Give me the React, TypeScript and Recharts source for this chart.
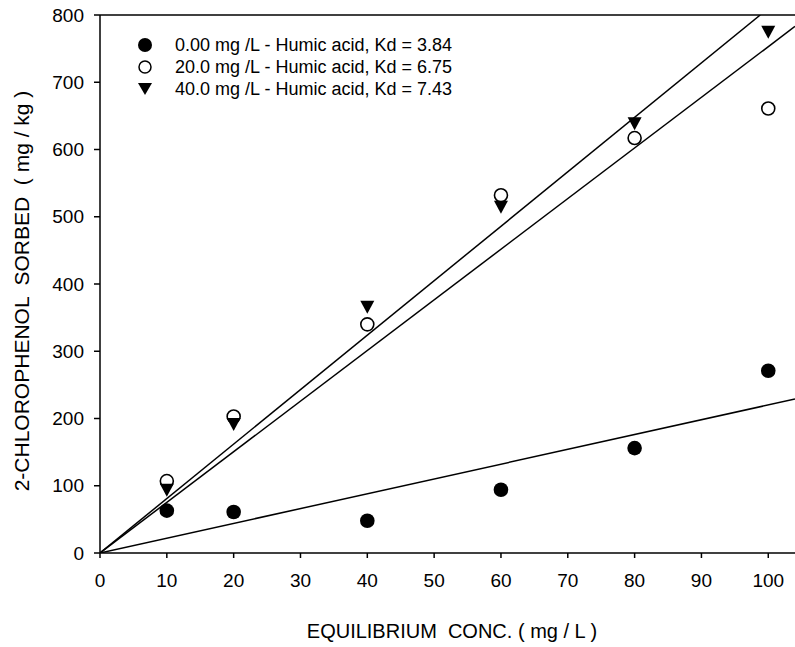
import { ComposedChart, Scatter, Line, XAxis, YAxis, ReferenceLine } from "recharts";

// equilibrium concentration (mg/L)
const concX = [10, 20, 40, 60, 80, 100];
// sorbed amounts (mg/kg) for each humic acid level
const sorbedHA0 = [63, 61, 48, 94, 156, 271];
const sorbedHA20 = [107, 203, 340, 532, 617, 661];
const sorbedHA40 = [94, 192, 366, 515, 639, 775];

const seriesNames = [
  "0.00 mg /L - Humic acid, Kd = 3.84",
  "20.0 mg /L - Humic acid, Kd = 6.75",
  "40.0 mg /L - Humic acid, Kd = 7.43",
];

// fitted lines as drawn, start and end points [x, y]
const fitLow: [number, number][] = [[0, 0], [104, 229]];
const fitMid: [number, number][] = [[0, 0], [104, 783]];
const fitHigh: [number, number][] = [[0, 0], [98.8, 800]];

const xTicks = [0, 10, 20, 30, 40, 50, 60, 70, 80, 90, 100];
const yTicks = [0, 100, 200, 300, 400, 500, 600, 700, 800];

const toPts = (ys: number[]) => concX.map((x, i) => ({ x, y: ys[i] }));
const toLine = (pts: [number, number][]) => pts.map(([x, y]) => ({ x, y }));

const FONT = "'Liberation Sans', Arial, sans-serif";

const FilledDot = (p: any) => <circle cx={p.cx} cy={p.cy} r={7.3} fill="#000" />;
const OpenDot = (p: any) => <circle cx={p.cx} cy={p.cy} r={6.5} fill="none" stroke="#000" strokeWidth={1.6} />;
const TriDown = (p: any) => (
  <path d={`M${p.cx - 7},${p.cy - 6} L${p.cx + 7},${p.cy - 6} L${p.cx},${p.cy + 7} Z`} fill="#000" />
);

function LegendBox() {
  const marks = [
    <circle cx={9} cy={9} r={7} fill="#000" />,
    <circle cx={9} cy={9} r={6} fill="none" stroke="#000" strokeWidth={1.5} />,
    <path d="M2,3 L16,3 L9,15 Z" fill="#000" />,
  ];
  return (
    <div style={{ position: "absolute", left: 136, top: 34, fontFamily: FONT, fontSize: 18, color: "#000" }}>
      {seriesNames.map((n, i) => (
        <div key={n} style={{ display: "flex", alignItems: "center", height: 22 }}>
          <svg width={18} height={18} style={{ marginRight: 21 }}>{marks[i]}</svg>
          <span>{n}</span>
        </div>
      ))}
    </div>
  );
}

export default function App() {
  return (
    <div style={{ position: "absolute", left: 0, top: 0, width: 795, height: 647, background: "#fff" }}>
      <ComposedChart width={795} height={647} margin={{ top: 15, right: 0, left: 0, bottom: 34 }}>
        <XAxis
          type="number"
          dataKey="x"
          domain={[0, 104]}
          ticks={xTicks}
          allowDataOverflow
          height={60}
          stroke="#000"
          strokeWidth={1.5}
          tickSize={5}
          tickMargin={16}
          tick={{ fill: "#000", fontSize: 19, fontFamily: FONT }}
          label={{
            content: (props: any) => {
              const vb = props.viewBox;
              return (
                <text x={452} y={vb.y + 78} textAnchor="middle" dominantBaseline="central" fontFamily={FONT} fontSize={20} fill="#000" style={{ whiteSpace: "pre" }}>
                  {"EQUILIBRIUM  CONC. ( mg / L )"}
                </text>
              );
            },
          }}
        />
        <YAxis
          type="number"
          dataKey="y"
          domain={[0, 800]}
          ticks={yTicks}
          allowDataOverflow
          width={100}
          stroke="#000"
          strokeWidth={1.5}
          tickSize={6}
          tickMargin={10}
          tick={{ fill: "#000", fontSize: 19, fontFamily: FONT }}
          label={{
            content: (props: any) => {
              const vb = props.viewBox;
              const cy = vb.y + vb.height / 2 + 7;
              return (
                <text x={21} y={cy} transform={`rotate(-90, 21, ${cy})`} textAnchor="middle" dominantBaseline="central" fontFamily={FONT} fontSize={21} fill="#000" style={{ whiteSpace: "pre" }}>
                  {"2-CHLOROPHENOL  SORBED  ( mg / kg )"}
                </text>
              );
            },
          }}
        />
        <ReferenceLine y={800} stroke="#000" strokeWidth={1.5} />
        <Line data={toLine(fitLow)} dataKey="y" stroke="#000" strokeWidth={1.5} dot={false} isAnimationActive={false} />
        <Line data={toLine(fitMid)} dataKey="y" stroke="#000" strokeWidth={1.5} dot={false} isAnimationActive={false} />
        <Line data={toLine(fitHigh)} dataKey="y" stroke="#000" strokeWidth={1.5} dot={false} isAnimationActive={false} />
        <Scatter name={seriesNames[0]} data={toPts(sorbedHA0)} dataKey="y" shape={FilledDot} isAnimationActive={false} />
        <Scatter name={seriesNames[1]} data={toPts(sorbedHA20)} dataKey="y" shape={OpenDot} isAnimationActive={false} />
        <Scatter name={seriesNames[2]} data={toPts(sorbedHA40)} dataKey="y" shape={TriDown} isAnimationActive={false} />
      </ComposedChart>
      <LegendBox />
    </div>
  );
}
